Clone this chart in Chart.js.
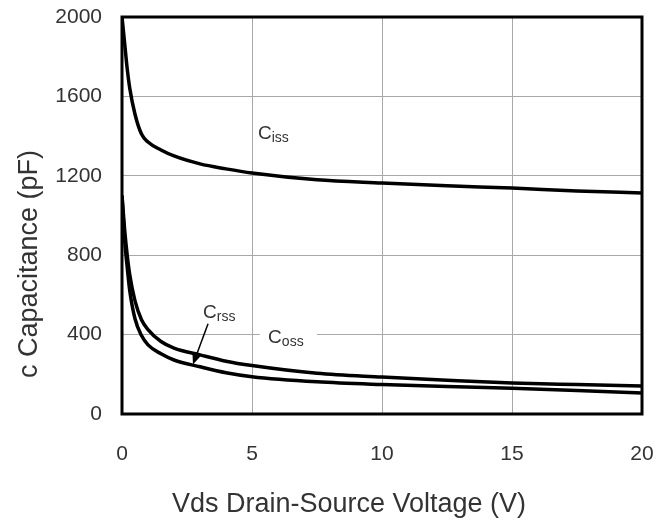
<!DOCTYPE html>
<html>
<head>
<meta charset="utf-8">
<script src="https://cdn.jsdelivr.net/npm/chart.js@4.4.1/dist/chart.umd.min.js"></script>
<style>
  html, body { margin: 0; padding: 0; background: #fff; }
</style>
</head>
<body>
<canvas id="capChart" width="659" height="528"></canvas>
<script>
// Vds sample points (V) and capacitances (pF)
const vds  = [0, 0.1, 0.2, 0.3, 0.5, 0.75, 1, 1.5, 2, 3, 4, 5, 7.5, 10, 12.5, 15, 17.5, 20];
const ciss = [2000, 1870, 1740, 1640, 1510, 1410, 1370, 1330, 1300, 1260, 1235, 1214, 1180, 1164, 1150, 1138, 1124, 1113];
const coss = [1100, 930, 800, 700, 570, 475, 425, 365, 332, 298, 266, 244, 205, 186, 170, 156, 148, 141];
const crss = [1100, 880, 740, 620, 480, 395, 348, 303, 272, 238, 208, 188, 162, 148, 138, 130, 118, 106];

const xTicks = [0, 5, 10, 15, 20];
const yTicks = [0, 400, 800, 1200, 1600, 2000];

const FONT = '"Liberation Sans", Arial, sans-serif';
const TEXT = '#333';

function points(ys) {
  return vds.map((v, i) => ({ x: v, y: ys[i] }));
}

function curve(label, ys) {
  return {
    label,
    data: points(ys),
    borderColor: '#000',
    borderWidth: 3.5,
    pointRadius: 0,
    fill: false,
    cubicInterpolationMode: 'monotone'
  };
}

// C + subscript, placed at a data coordinate
function subLabel(ctx, x, y, main, sub) {
  ctx.fillStyle = TEXT;
  ctx.textAlign = 'left';
  ctx.textBaseline = 'alphabetic';
  ctx.font = '19px ' + FONT;
  ctx.fillText(main, x, y);
  const w = ctx.measureText(main).width;
  ctx.font = '14px ' + FONT;
  ctx.fillText(sub, x + w, y + 3);
}

const decorations = {
  id: 'decorations',
  afterDatasetsDraw(chart) {
    const { ctx, chartArea: a, scales } = chart;
    const px = (v) => scales.x.getPixelForValue(v);
    const py = (c) => scales.y.getPixelForValue(c);
    ctx.save();

    // frame
    ctx.strokeStyle = '#000';
    ctx.lineWidth = 3;
    ctx.strokeRect(a.left, a.top, a.right - a.left, a.bottom - a.top);

    // curve labels
    subLabel(ctx, px(5.23), py(1385), 'C', 'iss');

    ctx.fillStyle = '#fff';
    ctx.fillRect(px(5.3), py(440), px(7.5) - px(5.3), py(320) - py(440));
    subLabel(ctx, px(5.62), py(358), 'C', 'oss');

    subLabel(ctx, px(3.12), py(484), 'C', 'rss');

    // arrow from the Crss label to its curve
    const x0 = px(3.31), y0 = py(455);
    const x1 = px(2.73), y1 = py(250);
    const ang = Math.atan2(y1 - y0, x1 - x0);
    ctx.strokeStyle = '#000';
    ctx.lineWidth = 1.5;
    ctx.beginPath();
    ctx.moveTo(x0, y0);
    ctx.lineTo(x1 - Math.cos(ang) * 6, y1 - Math.sin(ang) * 6);
    ctx.stroke();
    ctx.fillStyle = '#000';
    ctx.beginPath();
    ctx.moveTo(x1, y1);
    ctx.lineTo(x1 - Math.cos(ang - 0.4) * 11, y1 - Math.sin(ang - 0.4) * 11);
    ctx.lineTo(x1 - Math.cos(ang + 0.4) * 11, y1 - Math.sin(ang + 0.4) * 11);
    ctx.closePath();
    ctx.fill();

    // axis titles
    ctx.fillStyle = TEXT;
    ctx.font = '27px ' + FONT;
    ctx.textAlign = 'center';
    ctx.textBaseline = 'alphabetic';
    ctx.fillText('Vds Drain-Source Voltage (V)', 349, 512);

    ctx.translate(37, 264);
    ctx.rotate(-Math.PI / 2);
    ctx.fillText('c Capacitance (pF)', 0, 0);

    ctx.restore();
  }
};

new Chart(document.getElementById('capChart'), {
  type: 'line',
  data: {
    datasets: [
      curve('Ciss', ciss),
      curve('Coss', coss),
      curve('Crss', crss)
    ]
  },
  options: {
    responsive: false,
    animation: false,
    events: [],
    layout: { padding: { top: 17, right: 17, left: 0, bottom: 0 } },
    plugins: {
      legend: { display: false },
      tooltip: { enabled: false }
    },
    scales: {
      x: {
        type: 'linear',
        min: 0,
        max: 20,
        afterFit: (scale) => {
          scale.height = 114;
          scale.paddingLeft = 0;
          scale.paddingRight = 0;
        },
        afterBuildTicks: (scale) => { scale.ticks = xTicks.map((v) => ({ value: v })); },
        ticks: { padding: 28, color: TEXT, font: { size: 21, family: FONT }, callback: (v) => String(v) },
        grid: { color: '#a8a8a8', lineWidth: 1, drawTicks: false },
        border: { display: false }
      },
      y: {
        min: 0,
        max: 2000,
        afterFit: (scale) => {
          scale.width = 122;
          scale.paddingTop = 0;
          scale.paddingBottom = 0;
        },
        afterBuildTicks: (scale) => { scale.ticks = yTicks.map((v) => ({ value: v })); },
        ticks: { padding: 20, color: TEXT, font: { size: 21, family: FONT }, callback: (v) => String(v) },
        grid: { color: '#a8a8a8', lineWidth: 1, drawTicks: false },
        border: { display: false }
      }
    }
  },
  plugins: [decorations]
});
</script>
</body>
</html>
